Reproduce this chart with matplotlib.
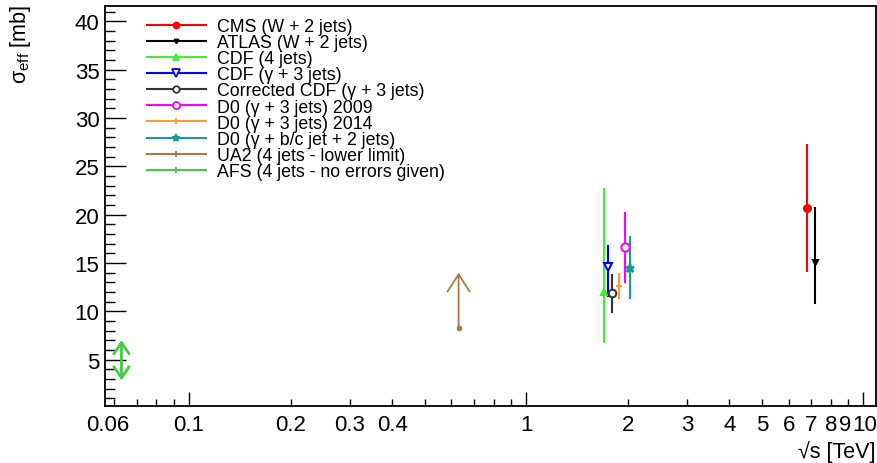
import matplotlib
matplotlib.use("Agg")
import matplotlib.pyplot as plt
from matplotlib.ticker import FixedLocator, FixedFormatter, MultipleLocator
from matplotlib.lines import Line2D
from matplotlib.patches import FancyArrowPatch
from matplotlib.transforms import ScaledTranslation

plt.rcParams['font.family'] = ['Liberation Sans', 'DejaVu Sans']
plt.rcParams['mathtext.default'] = 'regular'

# ---- data (positions as plotted in the reference) ----
labels = ["CMS (W + 2 jets)", "ATLAS (W + 2 jets)", "CDF (4 jets)", "CDF (γ + 3 jets)",
          "Corrected CDF (γ + 3 jets)", "D0 (γ + 3 jets) 2009", "D0 (γ + 3 jets) 2014",
          "D0 (γ + b/c jet + 2 jets)", "UA2 (4 jets - lower limit)", "AFS (4 jets - no errors given)"]
sqrt_s = [6.8, 7.2, 1.70, 1.75, 1.80, 1.96, 1.89, 2.03]
sigma_eff = [20.7, 15.1, 12.0, 14.6, 11.9, 16.6, 12.6, 14.5]
err_low = [6.6, 4.3, 5.3, 3.1, 2.1, 3.7, 1.3, 3.2]
err_high = [6.6, 5.7, 10.8, 2.3, 2.0, 3.7, 1.4, 3.3]

ua2_sqrt_s = 0.63
ua2_sigma = 8.3
ua2_arrow_top = 14.0

afs_sqrt_s = 0.063
afs_sigma_low = 2.85
afs_sigma_high = 7.0

colors = ["#ff0000", "#000000", "#44ee33", "#0000ff", "#333333", "#ff00ff",
          "#ff9933", "#1a9a9a", "#a87a48", "#44cc44"]
markers = ["o", "v", "^", "v", "o", "o", "+", "*", "+", "+"]
msizes = [5, 3.5, 5, 6, 5.5, 6, 5, 6.5, 5, 5]
open_marker = [False, False, False, True, True, True, False, False, False, False]

xtick_major = [0.1, 1, 10]
xtick_major_labels = ["0.1", "1", "10"]
xtick_minor = [0.06, 0.07, 0.08, 0.09, 0.2, 0.3, 0.4, 0.5, 0.6, 0.7, 0.8, 0.9,
               2, 3, 4, 5, 6, 7, 8, 9]
xtick_minor_labels = ["0.06", "", "", "", "0.2", "0.3", "0.4", "", "", "", "", "",
                      "2", "3", "4", "5", "6", "7", "8", "9"]

# ---- figure ----
fig = plt.figure(figsize=(8.78, 4.64), dpi=100)
ax = fig.add_axes([105/878, 1 - 406.7/464, (876-105)/878, (406.7-7)/464])

for i in range(len(sqrt_s)):
    mfc = "white" if open_marker[i] else colors[i]
    ax.errorbar([sqrt_s[i]], [sigma_eff[i]], yerr=[[err_low[i]], [err_high[i]]],
                fmt=markers[i], color=colors[i], ecolor=colors[i], elinewidth=1.5,
                capsize=0, ms=msizes[i], mfc=mfc, mec=colors[i], mew=1.5, zorder=3)

# UA2 lower limit arrow
ax.plot([ua2_sqrt_s], [ua2_sigma], marker="o", ms=3, color=colors[8], zorder=3)
ax.add_patch(FancyArrowPatch((ua2_sqrt_s, ua2_sigma), (ua2_sqrt_s, ua2_arrow_top),
                             arrowstyle="->,head_length=1.25,head_width=0.8",
                             mutation_scale=10, color=colors[8], lw=1.3,
                             shrinkA=0, shrinkB=0, zorder=3))
# AFS double arrow
ax.add_patch(FancyArrowPatch((afs_sqrt_s, afs_sigma_low), (afs_sqrt_s, afs_sigma_high),
                             arrowstyle="<->,head_length=0.8,head_width=0.55",
                             mutation_scale=10, color=colors[9], lw=2.0,
                             shrinkA=0, shrinkB=0, zorder=3))

ax.set_xscale("log")
ax.set_xlim(0.0563, 10.9)
ax.set_ylim(0.22, 41.6)

ax.xaxis.set_major_locator(FixedLocator(xtick_major))
ax.xaxis.set_major_formatter(FixedFormatter(xtick_major_labels))
ax.xaxis.set_minor_locator(FixedLocator(xtick_minor))
ax.xaxis.set_minor_formatter(FixedFormatter(xtick_minor_labels))
ax.yaxis.set_major_locator(MultipleLocator(5))
ax.yaxis.set_minor_locator(MultipleLocator(1))

ax.tick_params(axis="x", which="both", direction="in", labelsize=16, pad=6, width=1)
ax.tick_params(axis="x", which="major", length=10)
ax.tick_params(axis="x", which="minor", length=5)
ax.tick_params(axis="y", which="both", direction="in", labelsize=16, pad=4, width=1)
ax.tick_params(axis="y", which="major", length=15)
ax.tick_params(axis="y", which="minor", length=7.5)
for s in ax.spines.values():
    s.set_linewidth(1.3)

fig.text(876/878, 1 - 452/464, "√s [TeV]", ha="right", va="center", fontsize=15.5)
fig.text(21/878, 1 - 5/464, r"$\sigma_{eff}$ [mb]", rotation=90, ha="center", va="top",
         fontsize=15.5)

handles = []
for i in range(len(labels)):
    mfc = "white" if open_marker[i] else colors[i]
    handles.append(Line2D([], [], color=colors[i], lw=1.5, marker=markers[i],
                          ms=msizes[i] * 0.85, mfc=mfc, mec=colors[i], mew=1.3))
leg = ax.legend(handles, labels, loc="upper left", bbox_to_anchor=(42/771, 0.97),
                frameon=False, fontsize=12.8, handlelength=3.3, handletextpad=0.62,
                labelspacing=-0.05, borderpad=0, borderaxespad=0, numpoints=1)

# small label nudges, as in the reference (edge label shifted, crowded 9/10)
fig.canvas.draw()
minor_ticks = ax.xaxis.get_minor_ticks()
major_ticks = ax.xaxis.get_major_ticks()
def nudge(lbl, dx_px):
    lbl.set_transform(lbl.get_transform() + ScaledTranslation(dx_px/100, 0, fig.dpi_scale_trans))
nudge(minor_ticks[0].label1, -7)
nudge(minor_ticks[-1].label1, -2.5)
nudge(major_ticks[-1].label1, 1.5)

fig.savefig("out.png", dpi=100)
